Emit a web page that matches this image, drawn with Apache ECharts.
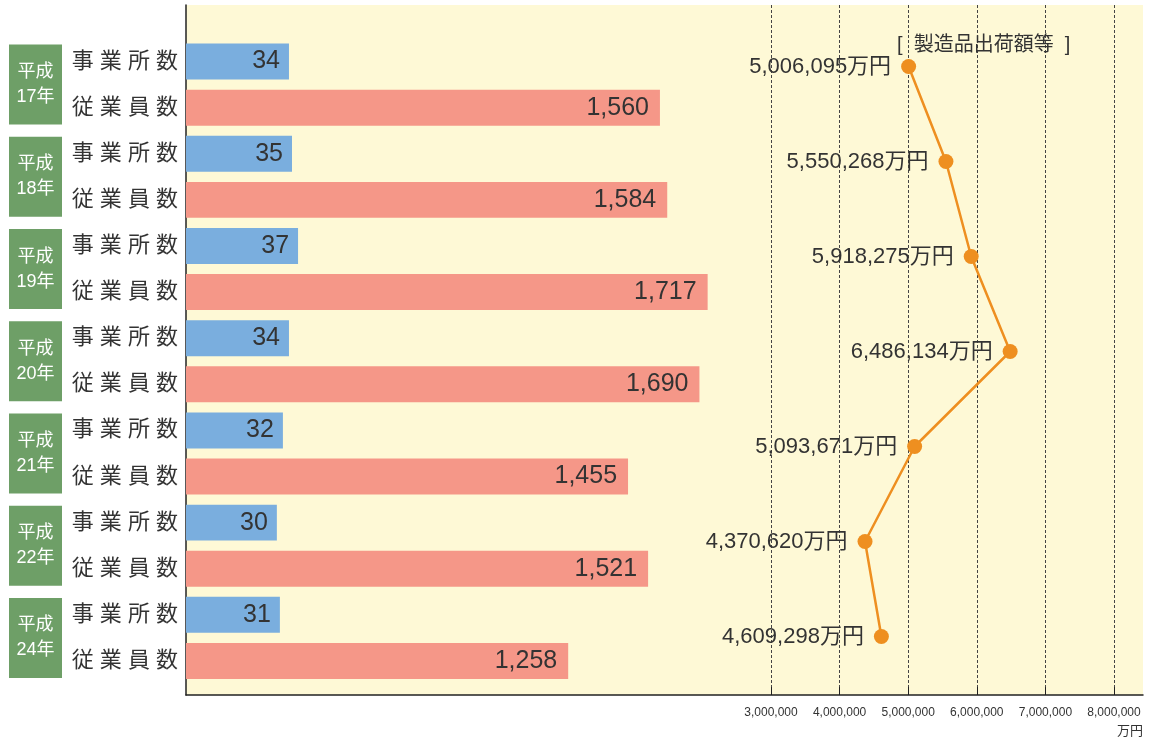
<!DOCTYPE html>
<html>
<head>
<meta charset="utf-8">
<script src="https://cdn.jsdelivr.net/npm/echarts@6/dist/echarts.min.js"></script>
<style>
  html, body { margin: 0; padding: 0; background: #fff; }
  #chart { width: 1157px; height: 743px; }
</style>
</head>
<body>
<div id="chart"></div>
<script>
const years = ['平成\n17年', '平成\n18年', '平成\n19年', '平成\n20年', '平成\n21年', '平成\n22年', '平成\n24年']
const metrics = ['事業所数', '従業員数']
const offices = [34, 35, 37, 34, 32, 30, 31]
const employees = [1560, 1584, 1717, 1690, 1455, 1521, 1258]
const shipments = [5006095, 5550268, 5918275, 6486134, 5093671, 4370620, 4609298]
const shipTicks = [3000000, 4000000, 5000000, 6000000, 7000000, 8000000]

const font = '"Liberation Sans", "Noto Sans CJK JP", sans-serif'
const comma = v => String(v).replace(/\B(?=(\d{3})+(?!\d))/g, ',')

// 14 bar slots: each year has an office row then an employee row
const slots = []
const officeData = []
const employeeData = []
years.forEach((y, i) => {
  slots.push(i + '|0', i + '|1')
  officeData.push(offices[i], '-')
  employeeData.push('-', employees[i])
})

const myChart = echarts.init(document.getElementById('chart'))
const option = {
  animation: false,
  textStyle: { fontFamily: font },
  title: [
    {
      text: '[  製造品出荷額等  ]',
      left: 892, top: 30,
      textStyle: { fontSize: 20, fontWeight: 'normal', color: '#333', fontFamily: font }
    },
    {
      text: '万円',
      left: 1112, top: 720,
      textStyle: { fontSize: 13, fontWeight: 'normal', color: '#333', fontFamily: font }
    }
  ],
  grid: [
    { left: 186, right: 14, top: 5, bottom: 48, show: true, backgroundColor: '#fef9d6', borderWidth: 0, outerBoundsMode: 'none' },
    { left: 186, right: 14, top: 38.5, bottom: 59, outerBoundsMode: 'none' },
    { left: 771, right: 43, top: 5, bottom: 48, outerBoundsMode: 'none' },
    { left: 771, right: 43, top: 19, bottom: 59, outerBoundsMode: 'none' },
    { left: 186, right: 14, top: 38.5, bottom: 59, outerBoundsMode: 'none' }
  ],
  xAxis: [
    {
      gridIndex: 0, type: 'value', min: 0, max: 1,
      axisLine: { show: true, lineStyle: { color: '#222', width: 1.5 } },
      axisTick: { show: false }, axisLabel: { show: false }, splitLine: { show: false }
    },
    { gridIndex: 1, type: 'value', min: 0, max: 3150, show: false },
    { gridIndex: 1, type: 'value', min: 0, max: 316, show: false },
    {
      gridIndex: 2, type: 'value', min: shipTicks[0], max: shipTicks[shipTicks.length - 1], interval: 1000000,
      axisLine: { show: false },
      axisTick: { show: true, inside: true, length: 8, lineStyle: { color: '#222', width: 1 } },
      axisLabel: { fontSize: 12, color: '#333', margin: 12, formatter: v => comma(v) },
      splitLine: { show: true, lineStyle: { color: '#444', width: 1, type: [3, 2] } }
    },
    { gridIndex: 3, type: 'value', min: shipTicks[0], max: shipTicks[shipTicks.length - 1], show: false },
    { gridIndex: 4, type: 'value', min: 0, max: 1, show: false }
  ],
  yAxis: [
    {
      gridIndex: 0, type: 'value', min: 0, max: 1,
      axisLine: { show: true, lineStyle: { color: '#222', width: 1.5 } },
      axisTick: { show: false }, axisLabel: { show: false }, splitLine: { show: false }
    },
    {
      gridIndex: 1, type: 'category', data: slots, inverse: true,
      axisLine: { show: false }, axisTick: { show: false },
      axisLabel: {
        interval: 0, margin: 8, fontSize: 22, color: '#333',
        formatter: v => metrics[+v.split('|')[1]].split('').join(' ')
      }
    },
    { gridIndex: 2, type: 'value', min: 0, max: 1, show: false },
    { gridIndex: 3, type: 'category', data: years, inverse: true, show: false },
    {
      gridIndex: 4, type: 'category', data: years, inverse: true,
      axisLine: { show: false }, axisTick: { show: false },
      axisLabel: {
        interval: 0, margin: 150.5, align: 'center', fontSize: 18, lineHeight: 25,
        color: '#fff', backgroundColor: '#6e9f67', width: 53, padding: [15, 0]
      }
    }
  ],
  series: [
    {
      name: '従業員数', type: 'bar', xAxisIndex: 1, yAxisIndex: 1,
      data: employeeData, barCategoryGap: '22%', barGap: '-100%',
      itemStyle: { color: '#f59788' },
      label: { show: true, position: 'insideRight', distance: 11, fontSize: 25, color: '#333', formatter: p => comma(p.value) }
    },
    {
      name: '事業所数', type: 'bar', xAxisIndex: 2, yAxisIndex: 1,
      data: officeData, barCategoryGap: '22%', barGap: '-100%',
      itemStyle: { color: '#7aaede' },
      label: { show: true, position: 'insideRight', distance: 9, fontSize: 25, color: '#333' }
    },
    {
      name: '製造品出荷額等', type: 'line', xAxisIndex: 4, yAxisIndex: 3,
      data: shipments, symbol: 'circle', symbolSize: 15,
      lineStyle: { color: '#ee8f20', width: 2.5 },
      itemStyle: { color: '#ee8f20' },
      label: { show: true, position: 'left', distance: 10, fontSize: 22, color: '#333', formatter: p => comma(p.value) + '万円' }
    }
  ]
}
myChart.setOption(option)
</script>
</body>
</html>
